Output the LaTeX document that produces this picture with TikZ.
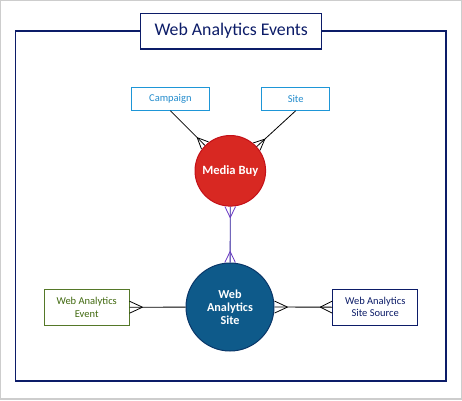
\documentclass[tikz,border=0pt]{standalone}
\usepackage{fontspec}
\setmainfont{Carlito}
\usetikzlibrary{decorations.markings}

\definecolor{navyline}{RGB}{12,28,104}
\definecolor{skyline}{RGB}{30,150,215}
\definecolor{skytext}{RGB}{35,140,205}
\definecolor{leafline}{RGB}{85,120,40}
\definecolor{leaftext}{RGB}{65,105,15}
\definecolor{buyred}{RGB}{216,40,34}
\definecolor{buyedge}{RGB}{196,16,24}
\definecolor{siteblue}{RGB}{14,90,138}
\definecolor{siteedge}{RGB}{10,55,105}
\definecolor{linkviolet}{RGB}{40,22,150}
\definecolor{footviolet}{RGB}{105,55,195}
\definecolor{framegrey}{RGB}{205,205,205}

\tikzset{
  entbox/.style={draw, fill=white, line width=0.9pt, inner sep=0pt, align=center,
    font=\fontsize{10.5}{12.3}\selectfont},
  entcircle/.style={circle, draw, line width=1pt, inner sep=0pt, align=center,
    text=white, font=\fontsize{12.2}{13.2}\selectfont\bfseries},
  crowend/.style n args={3}{postaction={decorate,decoration={markings,
    mark=at position 0.9999 with {\draw[#3] (-#1pt,0pt) -- (0pt,#2pt) (-#1pt,0pt) -- (0pt,-#2pt);}}}},
  crowstart/.style n args={3}{postaction={decorate,decoration={markings,
    mark=at position 0.0001 with {\draw[#3] (#1pt,0pt) -- (0pt,#2pt) (#1pt,0pt) -- (0pt,-#2pt);}}}},
}

\begin{document}
\begin{tikzpicture}[x=1pt,y=-1pt]
    \useasboundingbox (0,0) rectangle (462,400);

    % 外枠
    \draw[framegrey, line width=1.2pt] (0.6,0.6) rectangle (461.4,399);
    \draw[navyline, line width=1.3pt] (15.7,31) rectangle (446,381);

    % タイトル
    \node[draw=navyline, fill=white, line width=1.3pt, minimum width=181pt, minimum height=35.7pt,
      inner sep=0pt, text=navyline, font=\fontsize{17.8}{20}\selectfont] (title) at (231.2,31.2) {Web Analytics Events};

    % 上のエンティティ
    \node[entbox, draw=skyline, text=skytext, minimum width=78.7pt, minimum height=23pt] (campaign) at (170.4,98.8) {Campaign};
    \node[entbox, draw=skyline, text=skytext, minimum width=68pt, minimum height=23pt] (site) at (295.7,98.8) {Site};

    % 円
    \node[entcircle, fill=buyred, draw=buyedge, minimum size=70.6pt, font=\fontsize{12.6}{14}\selectfont\bfseries] (mediabuy) at (230.3,170.8) {Media Buy};
    \node[entcircle, fill=siteblue, draw=siteedge, minimum size=88pt] (wasite) at (230,307) {Web\\Analytics\\Site};

    % 下のエンティティ
    \node[entbox, draw=leafline, text=leaftext, minimum width=84.7pt, minimum height=36pt] (waevent) at (86.7,307.3) {Web Analytics\\Event};
    \node[entbox, draw=navyline, text=navyline, minimum width=85pt, minimum height=36pt] (wasource) at (375.2,307.2) {Web Analytics\\Site Source};

    % 関連線
    \draw[black, line width=0.8pt, crowend={11}{5}{black}] (campaign.south) -- (mediabuy);
    \draw[black, line width=0.8pt, crowend={11}{5}{black}] (site.south) -- (mediabuy);
    \draw[linkviolet, line width=0.8pt, crowstart={11}{5.3}{footviolet}, crowend={11}{5.3}{footviolet}] (mediabuy) -- (wasite);
    \draw[black, line width=0.8pt, crowstart={13}{6}{black}] (waevent) -- (wasite);
    \draw[black, line width=0.8pt, crowstart={13}{6}{black}, crowend={12}{6}{black}] (wasite) -- (wasource);
\end{tikzpicture}
\end{document}
